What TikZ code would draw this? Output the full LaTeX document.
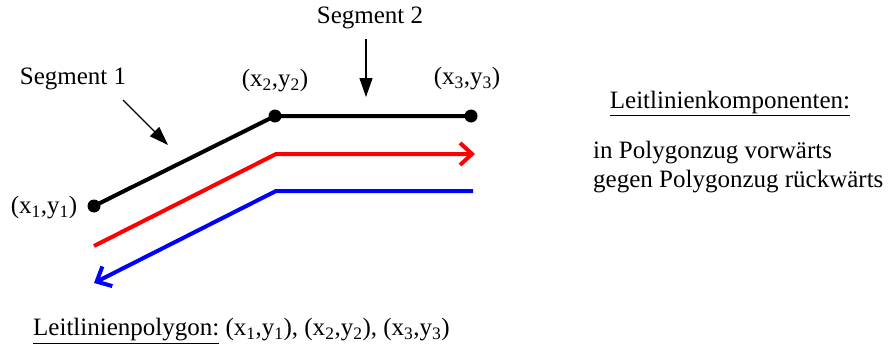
\documentclass[tikz,border=0pt]{standalone}
\usepackage{fontspec}
\setmainfont{Liberation Serif}
\usetikzlibrary{arrows.meta, positioning}

\begin{document}
\begin{tikzpicture}[x=1pt, y=-1pt,
    every node/.style={inner sep=0pt, font=\fontsize{25}{30}\selectfont},
    pt/.style={circle, fill, minimum size=13pt},
    seg/.style={line width=4pt},
    pfeil/.style={line width=1.2pt, -{Triangle[length=19pt,width=13pt]}},
    richtung/.style={line width=4pt, -{Straight Barb[length=12pt,width=22pt]}}
  ]
  \useasboundingbox (0,0) rectangle (893,353);

  % Polygonpunkte
  \node[pt] (P1) at (94,206) {};
  \node[pt] (P2) at (275,116) {};
  \node[pt] (P3) at (471,116) {};
  \draw[seg] (P1.center) -- (P2.center) -- (P3.center);

  \node (L1) at (44,208) {(x\textsubscript{1},y\textsubscript{1})};
  \node (L2) at (275,81) {(x\textsubscript{2},y\textsubscript{2})};
  \node (L3) at (467,79) {(x\textsubscript{3},y\textsubscript{3})};

  % Segmente
  \node (S1) at (73,79) {Segment 1};
  \node (S2) at (370,18) {Segment 2};
  \coordinate (S1a) at (123,100);
  \coordinate (S1b) at (168,145);
  \coordinate (S2a) at (366,39);
  \coordinate (S2b) at (366,97);
  \draw[pfeil] (S1a) -- (S1b);
  \draw[pfeil] (S2a) -- (S2b);

  % Leitlinienkomponenten
  \coordinate (R1) at (94,246);
  \coordinate (R2) at (276,154);
  \coordinate (R3) at (475,154);
  \draw[richtung, red] (R1) -- (R2) -- (R3);
  \coordinate (B1) at (473,191);
  \coordinate (B2) at (276,191);
  \coordinate (B3) at (94,283);
  \draw[richtung, blue] (B1) -- (B2) -- (B3);

  \node (K) at (730,103) {\underline{Leitlinienkomponenten:}};
  \node[anchor=west] (Kv) at (593,153) {in Polygonzug vorwärts};
  \node[anchor=west] (Kr) at (593,182) {gegen Polygonzug rückwärts};

  \node[anchor=west] (LP) at (33,331) {\underline{Leitlinienpolygon:} (x\textsubscript{1},y\textsubscript{1}), (x\textsubscript{2},y\textsubscript{2}), (x\textsubscript{3},y\textsubscript{3})};
\end{tikzpicture}
\end{document}
